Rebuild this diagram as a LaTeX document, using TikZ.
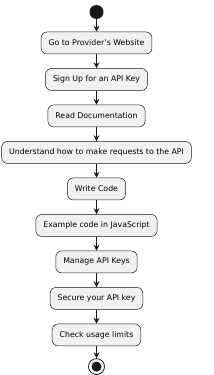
\documentclass[tikz,border=0pt]{standalone}
\usepackage{fontspec}
\setmainfont{DejaVu Sans}
\usetikzlibrary{arrows.meta, positioning}
\definecolor{actfill}{HTML}{F1F1F1}
\definecolor{actline}{HTML}{181818}

\begin{document}
\begin{tikzpicture}[x=1pt, y=1pt,
  act/.style={draw=actline, fill=actfill, rounded corners=6pt, minimum height=22pt, inner xsep=7.5pt, font=\fontsize{7.8}{9}\selectfont, line width=0.5pt},
  arr/.style={-{Stealth[length=6pt, width=6pt, inset=2.2pt]}, actline, line width=0.6pt},
  node distance=14pt
]
\useasboundingbox (0,0) rectangle (214,-375);
% start
\node[circle, fill=actline, minimum size=14pt, inner sep=0pt] (start) at (96.5,-12) {};
% activities
\node[act, below=12.5pt of start] (a1) {Go to Provider's Website};
\node[act, below=of a1] (a2) {Sign Up for an API Key};
\node[act, below=of a2] (a3) {Read Documentation};
\node[act, below=of a3] (a4) {Understand how to make requests to the API};
\node[act, below=of a4] (a5) {Write Code};
\node[act, below=of a5] (a6) {Example code in JavaScript};
\node[act, below=of a6] (a7) {Manage API Keys};
\node[act, below=of a7] (a8) {Secure your API key};
\node[act, below=of a8] (a9) {Check usage limits};
% stop
\node[circle, draw=actline, fill=white, line width=0.8pt, minimum size=16pt, inner sep=0pt, below=12pt of a9] (stop) {};
\node[circle, fill=actline, minimum size=10pt, inner sep=0pt] (stopdot) at (stop) {};

\draw[arr] (start)--(a1); \draw[arr] (a1)--(a2); \draw[arr] (a2)--(a3);
\draw[arr] (a3)--(a4); \draw[arr] (a4)--(a5); \draw[arr] (a5)--(a6);
\draw[arr] (a6)--(a7); \draw[arr] (a7)--(a8); \draw[arr] (a8)--(a9);
\draw[arr] (a9)--(stop);
\end{tikzpicture}
\end{document}
